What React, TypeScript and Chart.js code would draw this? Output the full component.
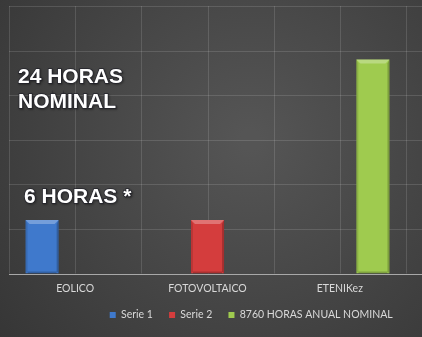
import React, { useEffect, useRef } from "react";
import { Chart, registerables } from "chart.js";

Chart.register(...registerables);

const categories = ["EOLICO", "FOTOVOLTAICO", "ETENIKez"];
const seriesNames = ["Serie 1", "Serie 2", "8760 HORAS ANUAL NOMINAL"];
const serie1 = [6, null, null];
const serie2 = [null, 6, null];
const serie3 = [null, null, 24];
const seriesColors = ["#3f79cc", "#d43d3d", "#9fcb4f"];
const yMax = 30;
const yStep = 5;
const annotationLines1 = ["24 HORAS", "NOMINAL"];
const annotationLines2 = ["6 HORAS *"];

const bgPlugin = {
  id: "bgPlugin",
  afterUpdate(chart: any) {
    const lg = chart.legend;
    if (lg) {
      lg.left += 3;
      lg.right += 3;
    }
  },
  beforeDraw(chart: any) {
    const { ctx, width, height } = chart;
    ctx.save();
    const g = ctx.createRadialGradient(250, 140, 10, 250, 140, 340);
    g.addColorStop(0, "#555555");
    g.addColorStop(1, "#343434");
    ctx.fillStyle = g;
    ctx.fillRect(0, 0, width, height);
    ctx.restore();
  },
  beforeDatasetsDraw(chart: any) {
    const { ctx, width, chartArea } = chart;
    const x = chart.scales.x;
    const y = chart.scales.y;
    ctx.save();
    ctx.strokeStyle = "rgba(255,255,255,0.13)";
    ctx.lineWidth = 1;
    for (let v = yStep; v <= yMax; v += yStep) {
      const py = Math.round(y.getPixelForValue(v)) + 0.5;
      ctx.beginPath();
      ctx.moveTo(chartArea.left, py);
      ctx.lineTo(width, py);
      ctx.stroke();
    }
    const half = (x.getPixelForValue(1) - x.getPixelForValue(0)) / 2;
    const xs: number[] = [];
    for (let i = 0; i < categories.length; i++) {
      const c = x.getPixelForValue(i);
      xs.push(c - half, c);
    }
    xs.push(x.getPixelForValue(categories.length - 1) + half);
    const baseY = y.getPixelForValue(0);
    xs.forEach((px) => {
      const rx = Math.round(px) + 0.5;
      ctx.beginPath();
      ctx.moveTo(rx, chartArea.top);
      ctx.lineTo(rx, baseY);
      ctx.stroke();
    });
    ctx.restore();
  },
  afterDatasetsDraw(chart: any) {
    const { ctx, width } = chart;
    const y = chart.scales.y;
    ctx.save();
    chart.data.datasets.forEach((ds: any, di: number) => {
      const meta = chart.getDatasetMeta(di);
      meta.data.forEach((bar: any, i: number) => {
        if (ds.data[i] == null) return;
        const { x, y: top, base, width: w } = bar.getProps(["x", "y", "base", "width"], true);
        const l = x - w / 2;
        const r = x + w / 2;
        const b = 4;
        ctx.fillStyle = "rgba(255,255,255,0.28)";
        ctx.beginPath();
        ctx.moveTo(l, top);
        ctx.lineTo(r, top);
        ctx.lineTo(r - b, top + b);
        ctx.lineTo(l + b, top + b);
        ctx.closePath();
        ctx.fill();
        ctx.fillStyle = "rgba(0,0,0,0.12)";
        ctx.beginPath();
        ctx.moveTo(l, top);
        ctx.lineTo(l + 2, top + b);
        ctx.lineTo(l + 2, base - 2);
        ctx.lineTo(l, base);
        ctx.closePath();
        ctx.fill();
        ctx.fillStyle = "rgba(0,0,0,0.22)";
        ctx.beginPath();
        ctx.moveTo(r, top);
        ctx.lineTo(r - 2, top + b);
        ctx.lineTo(r - 2, base - 2);
        ctx.lineTo(r, base);
        ctx.closePath();
        ctx.fill();
        ctx.fillStyle = "rgba(0,0,0,0.2)";
        ctx.fillRect(l + 2, base - 2, w - 4, 2);
      });
    });
    const by = Math.round(y.getPixelForValue(0)) + 0.5;
    ctx.strokeStyle = "#a8a8a8";
    ctx.lineWidth = 1;
    ctx.beginPath();
    ctx.moveTo(chart.chartArea.left, by);
    ctx.lineTo(width, by);
    ctx.stroke();
    ctx.font = "bold 21px 'Liberation Sans', Arial, sans-serif";
    ctx.textBaseline = "alphabetic";
    ctx.textAlign = "left";
    const drawText = (t: string, px: number, py: number) => {
      ctx.save();
      ctx.shadowColor = "rgba(0,0,0,0.5)";
      ctx.shadowBlur = 2;
      ctx.shadowOffsetX = 1;
      ctx.shadowOffsetY = 1;
      ctx.lineWidth = 1.5;
      ctx.strokeStyle = "rgba(30,30,40,0.8)";
      ctx.strokeText(t, px, py);
      ctx.restore();
      ctx.fillStyle = "#ffffff";
      ctx.fillText(t, px, py);
    };
    annotationLines1.forEach((t, i) => drawText(t, 18, 83 + i * 25));
    annotationLines2.forEach((t, i) => drawText(t, 24, 203 + i * 25));
    ctx.restore();
  },
};

export default function App() {
  const ref = useRef<HTMLCanvasElement>(null);
  useEffect(() => {
    document.body.style.margin = "0";
    const canvas = ref.current!;
    const data = [serie1, serie2, serie3];
    const chart = new Chart(canvas, {
      type: "bar",
      data: {
        labels: categories,
        datasets: data.map((d, i) => ({
          label: seriesNames[i],
          data: d,
          backgroundColor: seriesColors[i],
          borderWidth: 0,
          barPercentage: 1,
          categoryPercentage: 0.75,
          skipNull: false,
        })),
      },
      options: {
        responsive: false,
        animation: false,
        events: [],
        layout: { padding: { left: 9, right: 16, top: 6, bottom: 6.75 } },
        plugins: {
          tooltip: { enabled: false },
          legend: {
            position: "bottom",
            align: "end",
            fullSize: false,
            labels: {
              color: "#d9d9d9",
              boxWidth: 6,
              boxHeight: 6,
              padding: 16.25,
              font: { family: "Lato", size: 10.5 },
            },
          },
        },
        scales: {
          x: {
            grid: { display: false, drawTicks: false },
            border: { display: false },
            afterFit: (s: any) => {
              s.height = 20;
            },
            ticks: {
              color: "#d9d9d9",
              padding: 9.5,
              font: { family: "Lato", size: 10.5, lineHeight: 1 },
            },
          },
          y: {
            display: false,
            min: 0,
            max: yMax,
            ticks: { stepSize: yStep },
          },
        },
      },
      plugins: [bgPlugin],
    });
    return () => chart.destroy();
  }, []);
  return (
    <div style={{ width: 422, height: 337 }}>
      <canvas ref={ref} width={422} height={337} style={{ display: "block" }} />
    </div>
  );
}
